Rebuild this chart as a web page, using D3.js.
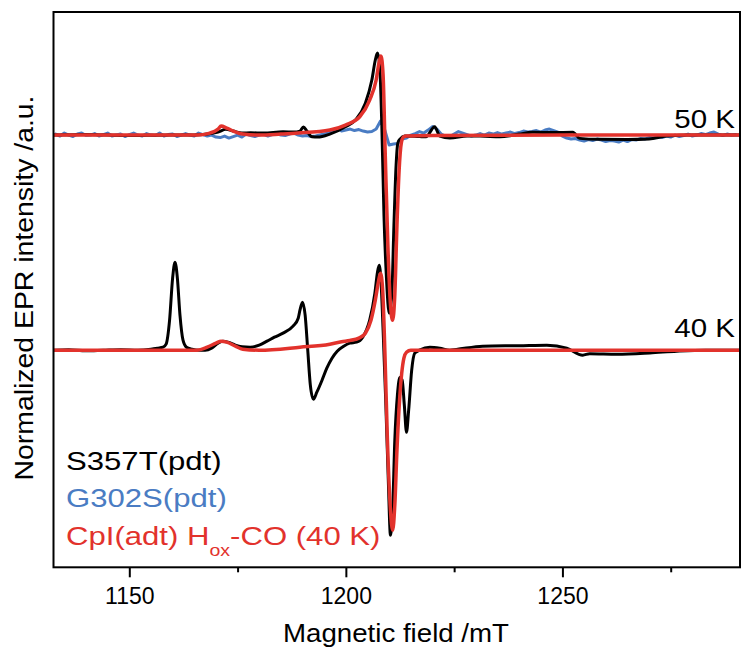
<!DOCTYPE html>
<html>
<head>
<meta charset="utf-8">
<script src="https://cdn.jsdelivr.net/npm/d3@7"></script>
<style>
  body { margin: 0; background: #fff; }
  svg { display: block; }
  text { font-family: "Liberation Sans", Arial, Helvetica, sans-serif; }
</style>
</head>
<body>
<svg id="chart" width="742" height="650"></svg>
<script>
// ---- Spectra (field in mT, intensity normalized, each trace relative to its own baseline) ----

// S357T(pdt) at 40 K
const field40 = [1132.5, 1136, 1140, 1144, 1148, 1152, 1155, 1156.5, 1157.8, 1158.5, 1159.3, 1160.0, 1160.55,
  1161.1, 1161.7, 1162.4, 1163.2, 1164.5, 1166, 1167.5, 1169, 1170.5, 1171.6, 1172.8, 1174.5, 1176, 1177.9,
  1180, 1181.8, 1183.5, 1185.5, 1187.8, 1189.0, 1189.4, 1190.0, 1190.6, 1191.2, 1191.8, 1192.5, 1193.3,
  1194.5, 1195.6, 1196.8, 1198.0, 1199.5, 1200.9, 1202.5, 1203.9, 1205.5, 1206.7, 1207.3, 1207.7, 1208.1,
  1208.6, 1209.2, 1209.8, 1210.3, 1210.8, 1211.3, 1211.9, 1212.5, 1213.0, 1213.5, 1214.0, 1214.5, 1215.2,
  1215.9, 1217, 1219.4, 1221.7, 1224, 1225.5, 1231.6, 1240, 1246.4, 1251, 1254.7, 1256.3, 1262.6, 1270.2,
  1276.4, 1283, 1291];
const s357t40K = [0.00, 0.005, -0.005, 0.00, 0.005, 0.00, 0.01, 0.02, 0.03, 0.06, 0.30, 0.72, 0.88,
  0.72, 0.35, 0.10, 0.03, 0.01, 0.00, 0.00, 0.02, 0.07, 0.09, 0.08, 0.05, 0.035, 0.03,
  0.05, 0.09, 0.13, 0.17, 0.24, 0.32, 0.40, 0.48, 0.35, 0.00, -0.35, -0.49, -0.42,
  -0.30, -0.18, -0.08, -0.01, 0.04, 0.07, 0.08, 0.13, 0.30, 0.57, 0.78, 0.85, 0.70,
  0.20, -0.50, -1.30, -1.85, -1.60, -0.90, -0.45, -0.27, -0.30, -0.55, -0.82, -0.60, -0.20,
  -0.03, 0.00, 0.03, 0.02, 0.00, 0.007, 0.04, 0.045, 0.05, 0.02, -0.05, -0.035, -0.04, -0.027,
  -0.01, 0.00, 0.00];

// CpI(adt) Hox-CO at 40 K, shown with both temperature sets
const fieldRef40 = [1132.5, 1150, 1165.6, 1168, 1170, 1171.2, 1172.5, 1174.5, 1176.2, 1180, 1189.4, 1196.3,
  1199, 1200.9, 1203, 1204.5, 1205.8, 1206.8, 1207.5, 1208.0, 1208.5, 1209.0, 1209.6, 1210.3, 1210.8,
  1211.3, 1211.8, 1212.4, 1212.9, 1213.4, 1214.0, 1215, 1250, 1291];
const cpiRef40 = [0.00, 0.00, 0.00, 0.03, 0.07, 0.09, 0.08, 0.04, 0.01, 0.00, 0.03, 0.06,
  0.085, 0.097, 0.12, 0.17, 0.30, 0.50, 0.68, 0.77, 0.60, 0.00, -0.90, -1.60, -1.80,
  -1.55, -1.00, -0.50, -0.23, -0.08, -0.02, 0.00, 0.00, 0.00];

// S357T(pdt) at 50 K
const field50 = [1132.5, 1140, 1150, 1160, 1165, 1168, 1170.5, 1172.3, 1174, 1176, 1178, 1181, 1185.5, 1188,
  1189.4, 1190.2, 1191, 1192.2, 1193.5, 1196.3, 1199.9, 1202.2, 1204.5, 1206.0, 1206.8, 1207.3, 1207.8,
  1208.3, 1208.8, 1209.4, 1210.0, 1210.6, 1211.1, 1211.6, 1212.0, 1212.5, 1213.6, 1217, 1218.5, 1220.5,
  1221.7, 1224, 1228, 1231, 1235.6, 1240, 1243, 1248, 1252.4, 1254, 1258.6, 1265, 1270, 1274, 1280, 1291];
const s357t50K = [0.00, 0.005, -0.005, 0.00, 0.00, 0.01, 0.03, 0.057, 0.04, 0.02, 0.023, 0.02, 0.033, 0.03,
  0.04, 0.08, 0.04, -0.017, -0.02, 0.01, 0.083, 0.15, 0.317, 0.55, 0.75, 0.82, 0.70,
  0.10, -0.80, -1.45, -1.78, -1.60, -0.90, -0.30, -0.08, -0.04, -0.01, -0.015, -0.017, 0.083,
  -0.01, -0.03, -0.01, -0.01, -0.017, 0.01, 0.027, 0.025, 0.027, -0.033, -0.043, -0.045, -0.04, -0.01, 0.00, 0.00];

// CpI(adt) Hox-CO trace placed on the 50 K baseline
const fieldRef50 = [1132.5, 1150, 1165.6, 1168.6, 1170.5, 1171.2, 1172.5, 1174, 1176.2, 1180, 1185, 1189,
  1196.3, 1199.9, 1203.2, 1205.5, 1207.0, 1207.7, 1208.1, 1208.6, 1209.1, 1209.7, 1210.3, 1210.8, 1211.3,
  1211.8, 1212.3, 1212.8, 1213.3, 1214, 1220, 1250, 1291];
const cpiRef50 = [0.00, 0.00, 0.00, 0.02, 0.06, 0.09, 0.07, 0.04, 0.01, 0.00, 0.01, 0.02,
  0.05, 0.10, 0.183, 0.35, 0.55, 0.733, 0.79, 0.60, -0.20, -1.10, -1.70, -1.85, -1.60,
  -0.90, -0.35, -0.08, -0.02, -0.01, -0.005, 0.00, 0.00];

// G302S(pdt) at 50 K, sampled every 1 mT from 1133 to 1290
const fieldStartG302S = 1133;
const g302s50K = [
  0.01, -0.01, 0.02, 0.00, -0.015, 0.01, 0.02, -0.005, 0.00, 0.015,
  -0.01, 0.005, 0.02, -0.01, 0.00, 0.01, -0.015, 0.005, 0.02, 0.00,
  -0.01, 0.015, 0.00, -0.005, 0.02, -0.01, 0.005, 0.01, -0.015, 0.00,
  0.015, 0.00, -0.01, 0.02, 0.005, -0.01, 0.00, -0.02, -0.025, -0.01,
  -0.03, -0.015, 0.00, -0.02, 0.01, -0.005, -0.015, 0.00, 0.01, -0.01,
  0.005, 0.015, 0.00, -0.005, 0.01, 0.02, 0.00, -0.01, -0.005, -0.015,
  -0.01, 0.00, 0.01, 0.02, 0.05, 0.065, 0.04, 0.05, 0.06, 0.045,
  0.055, 0.04, 0.03, 0.035, 0.06, 0.14, 0.05, -0.10, -0.09, -0.085,
  -0.04, -0.03, 0.00, 0.015, 0.035, 0.02, 0.05, 0.085, 0.06, 0.01,
  -0.01, -0.015, 0.01, 0.035, 0.02, 0.005, -0.01, 0.00, 0.015, 0.00,
  0.02, 0.01, 0.025, 0.01, 0.02, 0.03, 0.015, 0.025, 0.04, 0.03,
  0.035, 0.045, 0.03, 0.05, 0.06, 0.045, 0.03, -0.01, -0.03, -0.04,
  -0.035, -0.05, -0.06, -0.045, -0.055, -0.04, -0.05, -0.065, -0.055, -0.06,
  -0.07, -0.05, -0.065, -0.045, -0.05, -0.035, -0.04, -0.025, -0.03, -0.02,
  -0.025, -0.01, -0.02, 0.00, -0.015, -0.005, 0.01, -0.01, 0.00, 0.015,
  0.005, 0.02, 0.03, 0.01, -0.005, 0.01, 0.00, 0.005];

// Vertical stacking of the two temperatures
const temperatureLabels = ["50 K", "40 K"];
const temperatureOffsets = [2.15, 0];

const majorTicks = [1150, 1200, 1250];
const minorTicks = [1175, 1225, 1275];

const legendLabels = ["S357T(pdt)", "G302S(pdt)", "CpI(adt) H"];
const colors = { s357t: "#000000", g302s: "#4a7cc3", cpi: "#e2322c" };

// ---- Layout ----
const svg = d3.select("#chart");
const plot = { left: 53.5, right: 740, top: 12, bottom: 567.3 };

const x = d3.scaleLinear().domain([1132.5, 1291]).range([plot.left, plot.right]);
const y = d3.scaleLinear().domain([-2.17, 3.38]).range([plot.bottom, plot.top]);

svg.append("defs").append("clipPath").attr("id", "plotClip")
  .append("rect")
  .attr("x", plot.left).attr("y", plot.top)
  .attr("width", plot.right - plot.left).attr("height", plot.bottom - plot.top);

const traces = svg.append("g").attr("clip-path", "url(#plotClip)");

function drawTrace(fields, values, offset, color, width, curve) {
  const pts = fields.map((f, i) => [f, values[i] + offset]);
  const line = d3.line()
    .x(d => x(d[0]))
    .y(d => y(d[1]))
    .curve(curve);
  traces.append("path")
    .datum(pts)
    .attr("d", line)
    .attr("fill", "none")
    .attr("stroke", color)
    .attr("stroke-width", width)
    .attr("stroke-linejoin", "round")
    .attr("stroke-linecap", "round");
}

const g302sFields = g302s50K.map((_, i) => fieldStartG302S + i);

// blue underneath, black over it, red reference on top
drawTrace(g302sFields, g302s50K, temperatureOffsets[0], colors.g302s, 3, d3.curveLinear);
drawTrace(field50, s357t50K, temperatureOffsets[0], colors.s357t, 3, d3.curveMonotoneX);
drawTrace(field40, s357t40K, temperatureOffsets[1], colors.s357t, 3, d3.curveMonotoneX);
drawTrace(fieldRef50, cpiRef50, temperatureOffsets[0], colors.cpi, 3.5, d3.curveMonotoneX);
drawTrace(fieldRef40, cpiRef40, temperatureOffsets[1], colors.cpi, 3.5, d3.curveMonotoneX);

// ---- Frame and bottom axis ----
svg.append("rect")
  .attr("x", plot.left).attr("y", plot.top)
  .attr("width", plot.right - plot.left).attr("height", plot.bottom - plot.top)
  .attr("fill", "none").attr("stroke", "#000").attr("stroke-width", 2);

const axisG = svg.append("g").attr("transform", `translate(0,${plot.bottom})`);
axisG.call(d3.axisBottom(x).tickValues(majorTicks).tickSize(10).tickPadding(10).tickFormat(d3.format("d")));
axisG.select(".domain").remove();
axisG.selectAll(".tick line").attr("stroke", "#000").attr("stroke-width", 2);
axisG.selectAll(".tick text")
  .attr("fill", "#000")
  .style("font-size", "23px")
  .style("font-family", "'Liberation Sans', Arial, sans-serif");

const minorG = svg.append("g").attr("transform", `translate(0,${plot.bottom})`);
minorG.call(d3.axisBottom(x).tickValues(minorTicks).tickSize(5).tickFormat(""));
minorG.select(".domain").remove();
minorG.selectAll(".tick line").attr("stroke", "#000").attr("stroke-width", 2);

// axis titles
svg.append("text")
  .attr("x", 396).attr("y", 642)
  .attr("text-anchor", "middle")
  .attr("textLength", 226).attr("lengthAdjust", "spacingAndGlyphs")
  .style("font-size", "26px")
  .text("Magnetic field /mT");

svg.append("text")
  .attr("transform", "translate(33,288) rotate(-90)")
  .attr("text-anchor", "middle")
  .attr("textLength", 385).attr("lengthAdjust", "spacingAndGlyphs")
  .style("font-size", "26px")
  .text("Normalized EPR intensity /a.u.");

// temperature labels at the right end of each baseline
const tempY = [128, 337];
temperatureLabels.forEach((t, i) => {
  svg.append("g")
    .attr("transform", `translate(735,${tempY[i]}) scale(1.18,1)`)
    .append("text")
    .attr("text-anchor", "end")
    .style("font-size", "25px")
    .attr("fill", "#000")
    .text(t);
});

// legend
const legendY = [470, 507, 545];
const legendColors = [colors.s357t, colors.g302s, colors.cpi];
legendLabels.forEach((lab, i) => {
  const t = svg.append("g")
    .attr("transform", `translate(66,${legendY[i]}) scale(1.22,1)`)
    .append("text")
    .attr("fill", legendColors[i])
    .style("font-size", "25.5px");
  t.append("tspan").text(lab);
  if (i === 2) {
    t.append("tspan").attr("dy", 11).style("font-size", "16px").text("ox");
    t.append("tspan").attr("dy", -11).text("-CO (40 K)");
  }
});
</script>
</body>
</html>
